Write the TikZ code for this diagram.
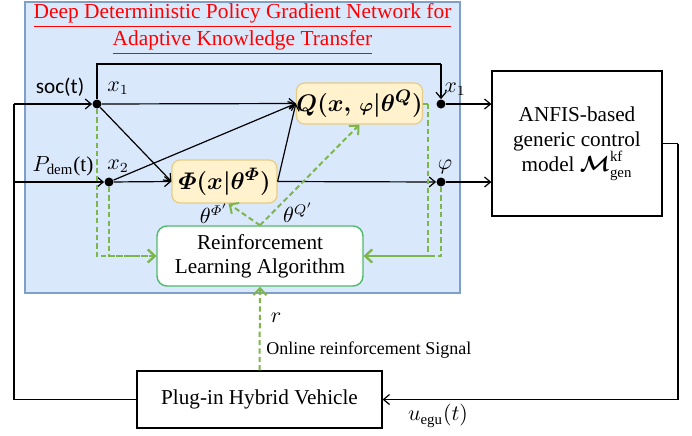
\documentclass[tikz,border=0pt]{standalone}
\usepackage{amsmath}
\usepackage{bm}
\usepackage{fontspec}
\setmainfont{Liberation Serif}
\newfontfamily\sanslab{Carlito}
\usetikzlibrary{arrows.meta}
\definecolor{bgfill}{HTML}{DAE8FC}
\definecolor{bgdraw}{HTML}{7F9FCB}
\definecolor{yfill}{HTML}{FFF2CC}
\definecolor{ydraw}{HTML}{E5CC88}
\definecolor{rlgreen}{HTML}{4DBA6A}
\definecolor{gdash}{HTML}{7DB64A}
\begin{document}
\begin{tikzpicture}[x=0.5pt,y=-0.5pt,
  line/.style={draw=black,line width=0.6pt},
  arr/.style={line,-{Straight Barb[length=3pt,width=5pt]}},
  garr/.style={draw=gdash,line width=1pt,dash pattern=on 2.6pt off 1.6pt,-{Straight Barb[length=3.5pt,width=6.5pt]}},
  gline/.style={draw=gdash,line width=1pt,dash pattern=on 2.6pt off 1.6pt},
  dot/.style={circle,fill=black,inner sep=0pt,minimum size=4.5pt},
  ybox/.style={draw=ydraw,fill=yfill,rounded corners=4pt,line width=0.6pt,inner sep=0pt},
  wbox/.style={draw=black,fill=white,line width=0.6pt,inner sep=0pt,align=center,font=\fontsize{10.6}{12.6}\selectfont},
  rlbox/.style={draw=rlgreen,fill=white,rounded corners=5pt,line width=0.7pt,inner sep=0pt,align=center,font=\fontsize{10.6}{12}\selectfont},
  lab/.style={inner sep=0pt,font=\fontsize{10.6}{12}\selectfont}]
\useasboundingbox (0,0) rectangle (692,435);
% background region
\draw[fill=bgfill,draw=bgdraw,line width=0.7pt] (25,2) rectangle (460,293);
\node[lab,align=center,text=red,font=\fontsize{10.7}{13.5}\selectfont] (title) at (242.5,29)
  {\underline{Deep Deterministic Policy Gradient Network for}\\\underline{Adaptive Knowledge Transfer}};
% boxes
\node[ybox,minimum width=57.5pt,minimum height=20.5pt] (Q) at (359.5,103.5)
  {\fontsize{12.5}{14}\selectfont$\bm{Q(x,}\,{\scriptstyle\bm{\varphi}}\bm{|\theta^{Q})}$};
\node[ybox,minimum width=52.5pt,minimum height=21.5pt] (Phi) at (224.5,181.5)
  {\fontsize{12.5}{14}\selectfont$\bm{\varPhi(x|\theta^{\varPhi})}$};
\node[rlbox,minimum width=103pt,minimum height=30pt] (RL) at (260,256)
  {Reinforcement\\Learning Algorithm};
\node[wbox,minimum width=85pt,minimum height=72.5pt] (AN) at (577,143.5)
  {ANFIS-based\\generic control\\model $\bm{\mathcal{M}}^{\text{kf}}_{\text{gen}}$};
\node[wbox,minimum width=122.5pt,minimum height=28.5pt] (PHV) at (259.5,399.5)
  {Plug-in Hybrid Vehicle};
% dots
\node[dot] (d1) at (97,104) {};
\node[dot] (d2) at (109,182) {};
\node[dot] (d3) at (441,104) {};
\node[dot] (d4) at (441,182) {};
% helper coordinates
\coordinate (lc1) at (14,104);
\coordinate (lc2) at (14,182);
\coordinate (t1) at (97,64);
\coordinate (t2) at (441,64);
\coordinate (r1) at (678,143.5);
\coordinate (qr) at (428,103.5);
% black connectors
\draw[line] (PHV.west) -| (lc1);
\draw[arr] (lc1) -- (d1);
\draw[arr] (lc2) -- (d2);
\draw[line] (d1) -- (t1) -- (t2);
\draw[arr] (t2) -- (d3);
\draw[arr] (d1) -- (Q.west);
\draw[arr] (d2) -- (Q.west);
\draw[arr] (d1) -- (Phi.west);
\draw[arr] (d2) -- (Phi.west);
\draw[arr] (Phi.east) -- (Q.west);
\draw[arr] (Phi.east) -- (d4);
\draw[arr] (d3) -- (d3 -| AN.west);
\draw[arr] (d4) -- (d4 -| AN.west);
\draw[line] (AN.east) -- (r1);
\draw[arr] (r1) |- (PHV.east);
% green dashed connectors
\draw[garr] (d1) |- (RL.west);
\draw[garr] (d2) |- (RL.west);
\draw[gline] (Q.east) -- (qr);
\draw[garr] (qr) |- (RL.east);
\draw[garr] (d4) |- (RL.east);
\draw[garr] (RL.north) -- ([xshift=2pt]Phi.south);
\draw[garr] (RL.north) -- (Q.south);
\draw[garr] (PHV.north) -- (RL.south);
% labels
\node[lab,font=\sanslab\fontsize{10.6}{12}\selectfont] (lsoc) at (60,87) {soc(t)};
\node[lab] (lx1) at (118,88) {$x_1$};
\node[lab] (lpdem) at (63,166) {$P_{\text{dem}}\text{(t)}$};
\node[lab] (lx2) at (118,166) {$x_2$};
\node[lab] (lx1r) at (455,89) {$x_1$};
\node[lab] (lphi) at (445,167) {$\varphi$};
\node[lab] (lthp) at (214,214) {$\theta^{\varPhi'}$};
\node[lab] (lthq) at (298,213) {$\theta^{Q'}$};
\node[lab] (lr) at (276,318) {$r$};
\node[lab,anchor=west,font=\fontsize{9}{10}\selectfont] (lonl) at (266,350) {Online reinforcement Signal};
\node[lab] (lu) at (438,416) {$u_{\text{egu}}(t)$};
\end{tikzpicture}
\end{document}
